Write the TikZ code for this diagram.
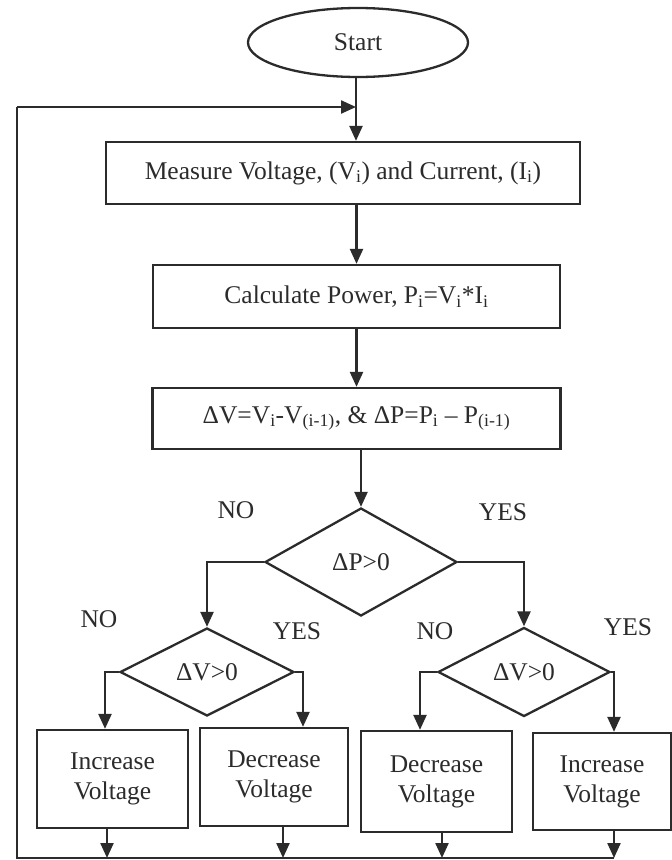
\documentclass[tikz,border=0pt]{standalone}
\usepackage{fontspec}
\setmainfont{Liberation Serif}
\usetikzlibrary{shapes.geometric,arrows.meta,calc}
\definecolor{ink}{HTML}{2B2B2B}
\begin{document}
\begin{tikzpicture}[x=1pt,y=-1pt,
  every node/.style={font=\fontsize{25.5}{30}\selectfont, text=ink},
  box/.style={draw=ink, line width=2.3pt, rectangle, inner sep=0pt, align=center},
  dia/.style={draw=ink, line width=2.3pt, diamond, inner sep=0pt},
  term/.style={draw=ink, line width=2.3pt, ellipse, inner sep=0pt},
  lbl/.style={inner sep=0pt},
  conn/.style={draw=ink, line width=2.3pt},
  arr/.style={conn, -{Triangle[length=15pt,width=13pt]}}
]
\useasboundingbox (0,0) rectangle (672,860);

\node[term, minimum width=220, minimum height=69] (start) at (358,42.5) {Start};
\node[box, minimum width=474, minimum height=62] (measure) at (343,173)
  {Measure Voltage, (V\textsubscript{i}) and Current, (I\textsubscript{i})};
\node[box, minimum width=407, minimum height=63] (calc) at (356.5,296.5)
  {Calculate Power, P\textsubscript{i}=V\textsubscript{i}*I\textsubscript{i}};
\node[box, minimum width=408, minimum height=61] (delta) at (356.5,418.5)
  {ΔV=V\textsubscript{i}-V\textsubscript{(i-1)}, \& ΔP=P\textsubscript{i} – P\textsubscript{(i-1)}};
\node[dia, minimum width=192, minimum height=108] (dP) at (361,562) {ΔP>0};
\node[dia, minimum width=174, minimum height=88] (dVL) at (207,672) {ΔV>0};
\node[dia, minimum width=172, minimum height=89] (dVR) at (524,672) {ΔV>0};

\node[box, minimum width=151, minimum height=98] (b1) at (112.5,779) {Increase\\Voltage};
\node[box, minimum width=148, minimum height=98] (b2) at (274,777) {Decrease\\Voltage};
\node[box, minimum width=151, minimum height=101] (b3) at (436.5,781.5) {Decrease\\Voltage};
\node[box, minimum width=138, minimum height=97] (b4) at (602,781.5) {Increase\\Voltage};

\node[lbl] (no1) at (236,510) {NO};
\node[lbl] (yes1) at (503,512) {YES};
\node[lbl] (no2) at (99,619) {NO};
\node[lbl] (yes2) at (297,631) {YES};
\node[lbl] (no3) at (435,631) {NO};
\node[lbl] (yes3) at (628,627) {YES};

% main column
\coordinate (join) at (356,107);
\draw[arr] (start.south -| join) -- (join |- measure.north);
\draw[arr] (calc.north |- measure.south) -- (calc.north);
\draw[arr] (delta.north |- calc.south) -- (delta.north);
\draw[arr] (dP.north |- delta.south) -- (dP.north);

% first decision
\draw[arr] (dP.west) -| (dVL.north);
\draw[arr] (dP.east) -| (dVR.north);

% second decisions
\coordinate (c1) at (105,672);
\coordinate (c2) at (303,672);
\coordinate (c3) at (420,672);
\coordinate (c4) at (614,672);
\draw[arr] (dVL.west) -- (c1) -- (c1 |- b1.north);
\draw[arr] (dVL.east) -- (c2) -- (c2 |- b2.north);
\draw[arr] (dVR.west) -- (c3) -- (c3 |- b3.north);
\draw[arr] (dVR.east) -- (c4) -- (c4 |- b4.north);

% return loop
\coordinate (e1) at (107,858);
\coordinate (e2) at (283,858);
\coordinate (e3) at (442,858);
\coordinate (e4) at (614,858);
\coordinate (loopBL) at (17,858);
\coordinate (loopTL) at (17,107);
\draw[arr] (e1 |- b1.south) -- (e1);
\draw[arr] (e2 |- b2.south) -- (e2);
\draw[arr] (e3 |- b3.south) -- (e3);
\draw[arr] (e4 |- b4.south) -- (e4);
\draw[conn] (e4) -- (loopBL) -- (loopTL);
\draw[arr] (loopTL) -- (join);
\end{tikzpicture}
\end{document}
